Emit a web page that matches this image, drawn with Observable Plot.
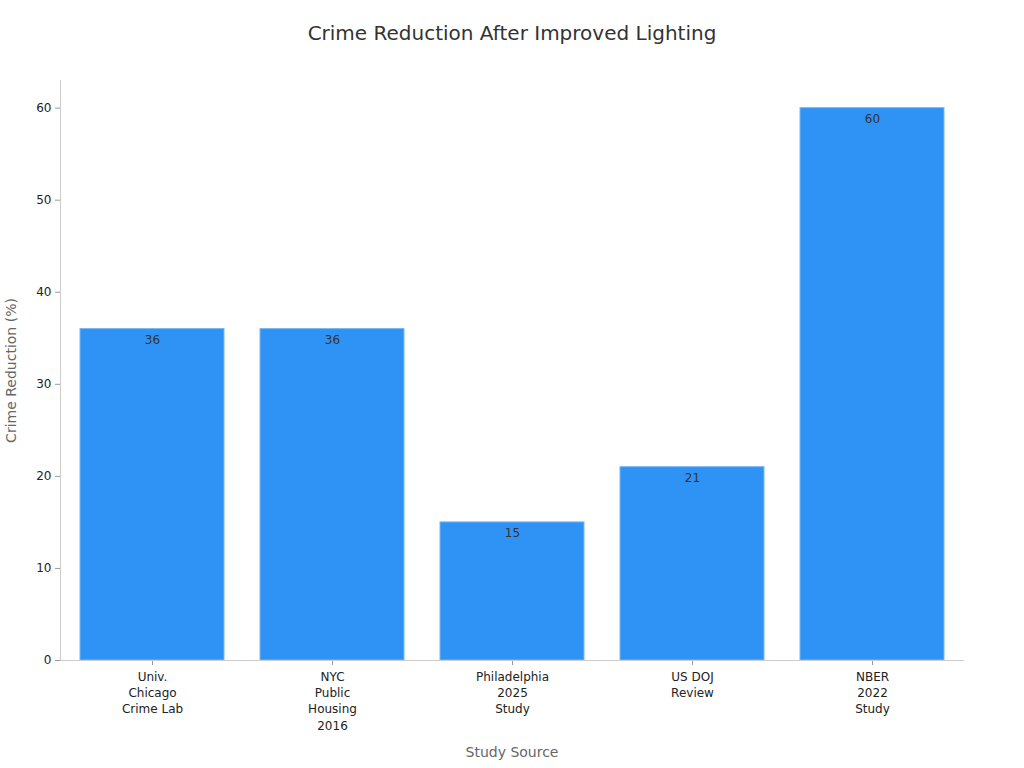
<!DOCTYPE html>
<html>
<head>
<meta charset="utf-8">
<script src="https://cdn.jsdelivr.net/npm/d3@7"></script>
<script src="https://cdn.jsdelivr.net/npm/@observablehq/plot@0.6"></script>
<style>
  body { margin: 0; background: #fff; font-family: "DejaVu Sans", sans-serif; }
  #title { height: 60px; line-height: 66px; text-align: center; font-size: 20px; color: #333; }
  #chart svg { display: block; }
</style>
</head>
<body>
<div id="title">Crime Reduction After Improved Lighting</div>
<div id="chart"></div>
<script>
const categories = [
  "Univ.\nChicago\nCrime Lab",
  "NYC\nPublic\nHousing\n2016",
  "Philadelphia\n2025\nStudy",
  "US DOJ\nReview",
  "NBER\n2022\nStudy"
];
const values = [36, 36, 15, 21, 60];
const yTicks = [0, 10, 20, 30, 40, 50, 60];
const data = categories.map((c, i) => ({ study: c, value: values[i] }));

const chart = Plot.plot({
  width: 1024,
  height: 708,
  marginTop: 20,
  marginBottom: 108,
  marginLeft: 60,
  marginRight: 61,
  style: { fontFamily: "DejaVu Sans, sans-serif", fontSize: "12px", color: "#333", background: "#fff" },
  x: { domain: categories, paddingInner: 0.2, paddingOuter: 0.1 },
  y: { domain: [0, 63] },
  marks: [
    Plot.barY(data, { x: "study", y: "value", fill: "#2e93f5", stroke: "#7ab6f5", strokeWidth: 1 }),
    Plot.text(data, { x: "study", y: "value", text: d => String(d.value), dy: 11, fill: "#333", fontSize: 12 }),
    Plot.axisX({ tickSize: 5, tickPadding: 4, stroke: "#999", fill: "#222", fontSize: 12,
                 lineHeight: 1.35, label: null }),
    Plot.axisX({ ticks: [], tickSize: 0, label: "Study Source", labelAnchor: "center", labelOffset: 96,
                 labelArrow: false, fill: "#666", fontSize: 14 }),
    Plot.axisY({ ticks: yTicks, tickSize: 5, tickPadding: 4, stroke: "#999", fill: "#222", fontSize: 12,
                 label: null }),
    Plot.axisY({ ticks: [], tickSize: 0, label: "Crime Reduction (%)", labelAnchor: "center", labelOffset: 54,
                 labelArrow: false, fill: "#666", fontSize: 14 }),
    Plot.frame({ anchor: "left", stroke: "#ccc" }),
    Plot.frame({ anchor: "bottom", stroke: "#ccc" })
  ]
});
document.getElementById("chart").appendChild(chart);
</script>
</body>
</html>
